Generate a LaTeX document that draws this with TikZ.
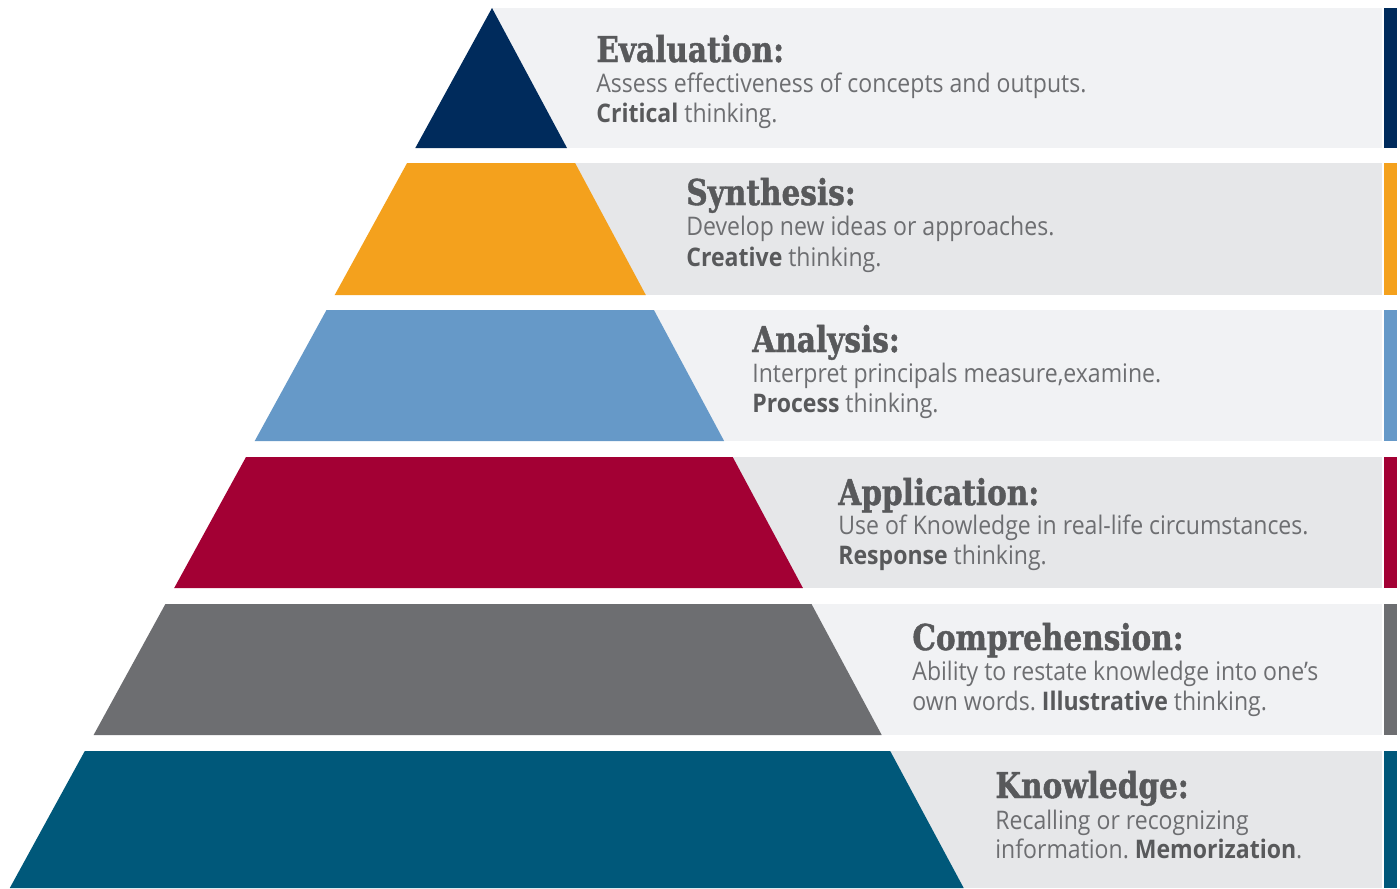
\documentclass[tikz,border=0pt]{standalone}
\usepackage{fontspec}
\setmainfont{Open Sans}[FakeStretch=0.9]
\newfontfamily\slabfont[FakeStretch=0.83, BoldFeatures={FakeBold=1.2}]{DejaVu Serif}
\frenchspacing

\definecolor{evalcol}{HTML}{002B5C}
\definecolor{syncol}{HTML}{F4A11D}
\definecolor{anacol}{HTML}{6699C8}
\definecolor{appcol}{HTML}{A30034}
\definecolor{comcol}{HTML}{6D6E71}
\definecolor{knocol}{HTML}{00587A}
\definecolor{bandlight}{HTML}{F1F2F4}
\definecolor{banddark}{HTML}{E6E7E9}
\definecolor{titlegrey}{HTML}{58595B}
\definecolor{bodygrey}{HTML}{6D6E71}

\begin{document}
\begin{tikzpicture}[x=0.5pt, y=-0.5pt,
        title/.style={anchor=base west, inner sep=0pt, text=titlegrey,
            font=\slabfont\bfseries\fontsize{17.8}{20}\selectfont},
        body/.style={anchor=base west, inner sep=0pt, text=bodygrey,
            font=\fontsize{12.8}{15}\selectfont}]
    \useasboundingbox (0,0) rectangle (1400,888);
    \fill[white] (0,0) rectangle (1400,888);

    % bands behind the pyramid
    \fill[bandlight] (492,8)   rectangle (1382,148);
    \fill[banddark]  (492,163) rectangle (1382,295);
    \fill[bandlight] (492,310) rectangle (1382,441);
    \fill[banddark]  (492,457) rectangle (1382,588);
    \fill[bandlight] (492,604) rectangle (1382,735);
    \fill[banddark]  (492,751) rectangle (1382,888);

    % pyramid tiers
    \fill[evalcol] (492,8)     -- (415.3,148) -- (567.0,148) -- cycle;
    \fill[syncol]  (407.1,163) -- (334.7,295) -- (645.8,295) -- (575.1,163) -- cycle;
    \fill[anacol]  (326.5,310) -- (254.7,441) -- (724.1,441) -- (653.9,310) -- cycle;
    \fill[appcol]  (246.0,457) -- (174.2,588) -- (802.9,588) -- (732.7,457) -- cycle;
    \fill[comcol]  (165.4,604) -- (93.6,735)  -- (881.7,735) -- (811.5,604) -- cycle;
    \fill[knocol]  (84.8,751)  -- (9.8,888)   -- (963.7,888) -- (890.2,751) -- cycle;

    % side bars
    \fill[evalcol] (1384,8)   rectangle (1397,148);
    \fill[syncol]  (1384,163) rectangle (1397,295);
    \fill[anacol]  (1384,310) rectangle (1397,441);
    \fill[appcol]  (1384,457) rectangle (1397,588);
    \fill[comcol]  (1384,604) rectangle (1397,735);
    \fill[knocol]  (1384,751) rectangle (1397,888);

    % labels
    \node[title] (evalT) at (596,62)  {Evaluation:};
    \node[body]  (evalA) at (596,92)  {Assess effectiveness of concepts and outputs.};
    \node[body]  (evalB) at (596,122) {\textcolor{titlegrey}{\bfseries Critical} thinking.};

    \node[title] (synT) at (686,205) {Synthesis:};
    \node[body]  (synA) at (686,235) {Develop new ideas or approaches.};
    \node[body]  (synB) at (686,266) {\textcolor{titlegrey}{\bfseries Creative} thinking.};

    \node[title] (anaT) at (752,352) {Analysis:};
    \node[body]  (anaA) at (752,382) {Interpret principals measure,examine.};
    \node[body]  (anaB) at (752,412) {\textcolor{titlegrey}{\bfseries Process} thinking.};

    \node[title] (appT) at (838,505) {Application:};
    \node[body]  (appA) at (838,534) {Use of Knowledge in real-life circumstances.};
    \node[body]  (appB) at (838,564) {\textcolor{titlegrey}{\bfseries Response} thinking.};

    \node[title] (comT) at (912,650) {Comprehension:};
    \node[body]  (comA) at (912,680) {Ability to restate knowledge into one’s};
    \node[body]  (comB) at (912,710) {own words. \textcolor{titlegrey}{\bfseries Illustrative} thinking.};

    \node[title] (knoT) at (995,798) {Knowledge:};
    \node[body]  (knoA) at (995,829) {Recalling or recognizing};
    \node[body]  (knoB) at (995,858) {information. \textcolor{titlegrey}{\bfseries Memorization}.};
\end{tikzpicture}
\end{document}
